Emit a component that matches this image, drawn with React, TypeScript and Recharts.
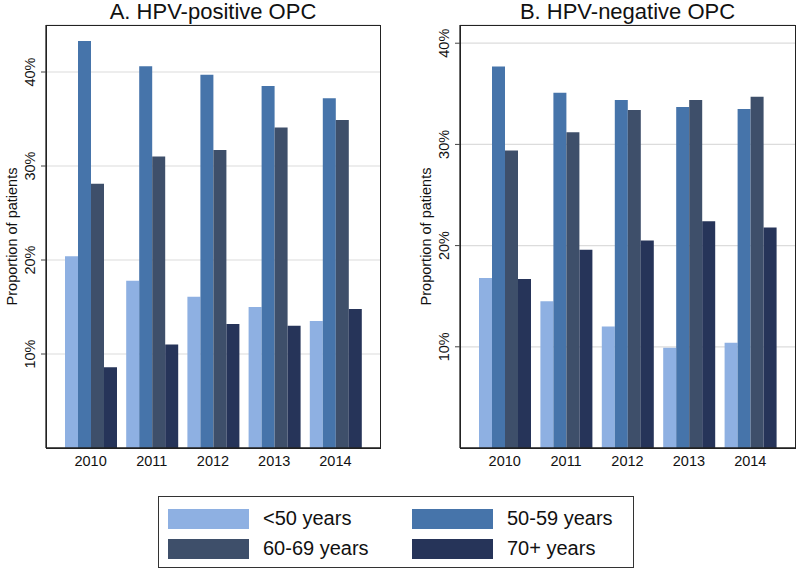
import React from 'react';
import { BarChart, Bar, XAxis, YAxis, CartesianGrid } from 'recharts';

const years = ['2010', '2011', '2012', '2013', '2014'];
const groups = ['<50 years', '50-59 years', '60-69 years', '70+ years'];
const colors = ['#8eb0e2', '#4674aa', '#3e4f6a', '#263459'];

// panel A: HPV-positive OPC (percent)
const posUnder50 = [20.4, 17.8, 16.1, 15.0, 13.5];
const pos50to59 = [43.3, 40.6, 39.7, 38.5, 37.2];
const pos60to69 = [28.1, 31.0, 31.7, 34.1, 34.9];
const pos70plus = [8.6, 11.0, 13.2, 13.0, 14.8];

// panel B: HPV-negative OPC (percent)
const negUnder50 = [16.8, 14.5, 12.0, 9.9, 10.4];
const neg50to59 = [37.7, 35.1, 34.4, 33.7, 33.5];
const neg60to69 = [29.4, 31.2, 33.4, 34.4, 34.7];
const neg70plus = [16.7, 19.6, 20.5, 22.4, 21.8];

const yTicks = [10, 20, 30, 40];

const buildRows = (a: number[], b: number[], c: number[], d: number[]) =>
  years.map((year, i) => ({ year, g0: a[i], g1: b[i], g2: c[i], g3: d[i] }));

const posData = buildRows(posUnder50, pos50to59, pos60to69, pos70plus);
const negData = buildRows(negUnder50, neg50to59, neg60to69, neg70plus);

const FONT = '"Liberation Sans", Arial, Helvetica, sans-serif';
const CHART_H = 480;
const TOP = 25;
const BOTTOM = 7;
const X_H = 25;

const XTick = (props: any) => {
  const { x, y, payload } = props;
  return (
    <text x={x} y={y + 18} textAnchor="middle" fontSize={14.5} fontFamily={FONT} fill="#111">
      {payload.value}
    </text>
  );
};

const YTick = (props: any) => {
  const { x, y, payload } = props;
  const tx = x - 6;
  return (
    <text
      x={tx}
      y={y}
      transform={`rotate(-90 ${tx} ${y})`}
      textAnchor="middle"
      fontSize={14.5}
      fontFamily={FONT}
      fill="#111"
    >
      {`${payload.value}%`}
    </text>
  );
};

const AxisTitle = (props: any) => {
  const { viewBox } = props;
  const x = viewBox.x + viewBox.width - 29;
  const y = viewBox.y + viewBox.height / 2;
  return (
    <text
      x={x}
      y={y}
      transform={`rotate(-90 ${x} ${y})`}
      textAnchor="middle"
      fontSize={14.5}
      fontFamily={FONT}
      fill="#111"
    >
      Proportion of patients
    </text>
  );
};

function Panel({ title, data, width, yWidth, rightMargin, max }: any) {
  const plotW = width - yWidth - rightMargin;
  const plotH = CHART_H - TOP - BOTTOM - X_H;
  return (
    <div style={{ position: 'relative', width, height: CHART_H }}>
      <div
        style={{
          position: 'absolute',
          top: 0,
          left: yWidth,
          width: plotW,
          textAlign: 'center',
          fontFamily: FONT,
          fontSize: 22,
          lineHeight: '23px',
          color: '#111',
          whiteSpace: 'nowrap',
        }}
      >
        {title}
      </div>
      <BarChart
        width={width}
        height={CHART_H}
        data={data}
        margin={{ top: TOP, right: rightMargin, left: 0, bottom: BOTTOM }}
        barCategoryGap={5}
        barGap={0}
      >
        <CartesianGrid horizontal vertical={false} stroke="#dcdcdc" strokeWidth={1.2} />
        <XAxis
          dataKey="year"
          height={X_H}
          padding={{ left: 14, right: 14 }}
          tickLine={false}
          tickSize={0}
          tickMargin={0}
          axisLine={{ stroke: '#222', strokeWidth: 1.3 }}
          tick={<XTick />}
        />
        <YAxis
          width={yWidth}
          domain={[0, max]}
          ticks={yTicks}
          allowDataOverflow
          tickLine={{ stroke: '#444', strokeWidth: 1 }}
          tickSize={5}
          tickMargin={0}
          tick={<YTick />}
          axisLine={{ stroke: '#222', strokeWidth: 1.3 }}
          label={<AxisTitle />}
        />
        {groups.map((g, i) => (
          <Bar key={g} dataKey={`g${i}`} name={g} fill={colors[i]} isAnimationActive={false} />
        ))}
      </BarChart>
      {/* plot frame */}
      <div
        style={{
          position: 'absolute',
          left: yWidth - 0.5,
          top: TOP - 0.5,
          width: plotW + 1,
          height: plotH + 1,
          border: '1.3px solid #222',
          boxSizing: 'border-box',
          pointerEvents: 'none',
        }}
      />
    </div>
  );
}

function Legend() {
  return (
    <div
      style={{
        position: 'absolute',
        left: 158,
        top: 496,
        width: 476,
        height: 72,
        border: '1.3px solid #333',
        boxSizing: 'border-box',
        fontFamily: FONT,
        fontSize: 20,
        color: '#111',
      }}
    >
      {groups.map((g, i) => (
        <div
          key={g}
          style={{
            position: 'absolute',
            left: i % 2 === 0 ? 9 : 253,
            top: i < 2 ? 11 : 41,
            display: 'flex',
            alignItems: 'center',
            height: 21,
          }}
        >
          <div style={{ width: 81, height: 20, background: colors[i] }} />
          <span style={{ marginLeft: 14 }}>{g}</span>
        </div>
      ))}
    </div>
  );
}

export default function App() {
  return (
    <div style={{ position: 'absolute', left: 0, top: 0, width: 800, height: 572, background: '#fff' }}>
      <div style={{ position: 'absolute', left: 0, top: 0 }}>
        <Panel title="A. HPV-positive OPC" data={posData} width={390} yWidth={46} rightMargin={10} max={45} />
      </div>
      <div style={{ position: 'absolute', left: 390, top: 0 }}>
        <Panel title="B. HPV-negative OPC" data={negData} width={410} yWidth={70} rightMargin={5} max={41.8} />
      </div>
      <Legend />
    </div>
  );
}
